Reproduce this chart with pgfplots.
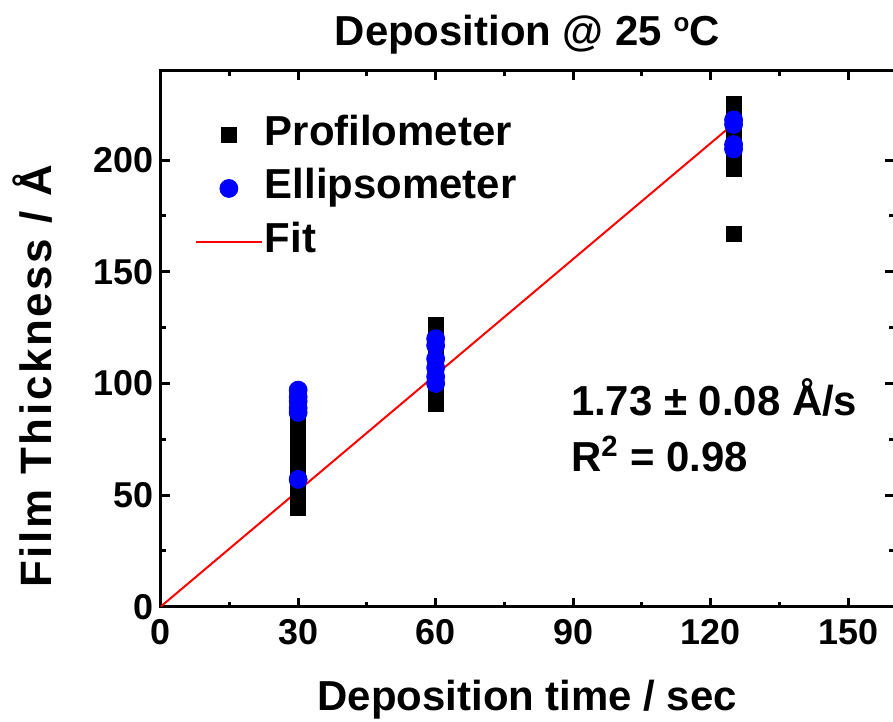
\documentclass[border=0pt]{standalone}
\usepackage{pgfplots}
\pgfplotsset{compat=1.18}
\usepackage{fontspec}
\setmainfont{Liberation Sans}
\newfontfamily\yfont[LetterSpace=6]{Liberation Sans}
\newcommand{\ff}{\bfseries\fontsize{18}{21}\selectfont}
\newcommand{\fl}{\bfseries\fontsize{21}{24}\selectfont}
\newcommand{\fy}{\yfont\bfseries\fontsize{22}{25}\selectfont}
\begin{document}
\begin{tikzpicture}
\begin{axis}[
  at={(0,0)}, anchor=south west,
  scale only axis,
  width=367.5pt, height=268.5pt,
  xmin=0, xmax=160, ymin=0, ymax=240,
  xtick={0,30,60,90,120,150},
  ytick={0,50,100,150,200},
  minor x tick num=1, minor y tick num=1,
  tick align=inside,
  major tick length=4.5pt, minor tick length=2.5pt,
  major tick style={line width=1.5pt, black},
  minor tick style={line width=1.5pt, black},
  axis line style={line width=1.5pt},
  /pgf/number format/assume math mode=true,
  every tick label/.append style={font=\ff},
  xticklabel style={yshift=-3pt},
  title={Deposition @ 25 \raisebox{0.35em}{\fontsize{13}{13}\selectfont o}C},
  title style={font=\fl, at={(axis description cs:0.5,1)}, anchor=center, yshift=12pt},
  xlabel={Deposition time / sec},
  xlabel style={font=\fl, at={(axis description cs:0.5,0)}, anchor=center, yshift=-46.5pt},
  ylabel={Film Thickness / Å},
  ylabel style={font=\fy, at={(axis description cs:-0.174,0.43)}, anchor=center},
  legend image code/.code={\draw[mark repeat=2,mark phase=2,#1] plot coordinates {(0pt,0pt) (16.5pt,0pt) (33pt,0pt)};},
  legend style={draw=none, fill=none, font=\fl, at={(axis description cs:0,1)}, anchor=north west,
    xshift=17pt, yshift=-21pt, inner sep=0pt, row sep=5.5pt,
    nodes={inner sep=1pt, text height=15pt, text depth=4.5pt}},
  legend cell align=left,
]
\addplot[only marks, mark=square*, mark size=3.75pt, black] coordinates {
 (30,44) (30,48) (30,52) (30,56) (30,60) (30,64) (30,68) (30,72) (30,76) (30,80) (30,84) (30,88) (30,92)
 (60,91) (60,95) (60,99) (60,103) (60,107) (60,111) (60,115) (60,119) (60,123) (60,126)
 (125,167) (125,196) (125,200) (125,205) (125,210) (125,215) (125,220) (125,225)
};
\addlegendentry{Profilometer}
\addplot[only marks, mark=*, mark size=4.5pt, color={rgb,255:red,0;green,0;blue,255}] coordinates {
 (30,57) (30,87) (30,89) (30,92) (30,94) (30,97)
 (60,100) (60,103) (60,107) (60,111) (60,117) (60,120)
 (125,205) (125,207) (125,216) (125,218)
};
\addlegendentry{Ellipsometer}
\addplot[red, line width=1pt, mark=none] coordinates {(0,0) (125,216.25)};
\addlegendentry{Fit}
\node[anchor=west, font=\fl] at (axis cs:88,93.7) {1.73 ± 0.08 Å/s};
\node[anchor=west, font=\fl] at (axis cs:88,68.3) {R\textsuperscript{2} = 0.98};
\end{axis}
\pgfresetboundingbox
\useasboundingbox (-80.5pt,-57.5pt) rectangle (367pt,304pt);
\end{tikzpicture}
\end{document}
